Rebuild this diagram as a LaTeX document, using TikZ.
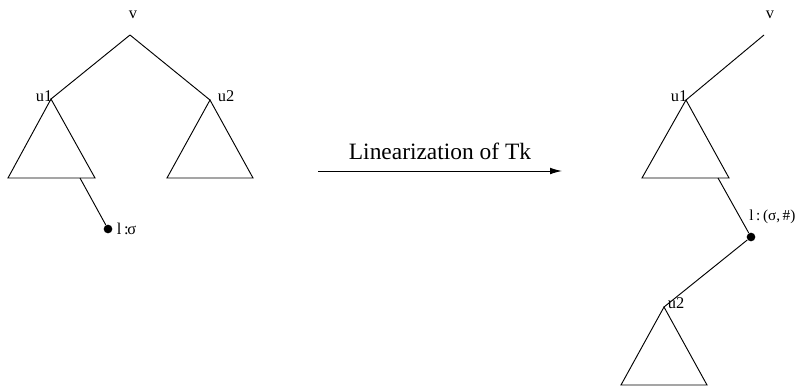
\documentclass[tikz,border=0pt]{standalone}
\usepackage{fontspec}
\setmainfont{Liberation Serif}
\usetikzlibrary{arrows.meta}
\begin{document}
\begin{tikzpicture}[x=0.03cm, y=-0.03cm, line width=0.8pt, >={Latex[length=3.6mm, width=2mm]},
  lbl/.style={font=\fontsize{14}{16}\selectfont, inner sep=0pt},
  leaf/.style={circle, fill, inner sep=0pt, minimum size=0.26cm},
  subtree/.style={draw}]
\useasboundingbox (0,0) rectangle (806,388);

\coordinate (v) at (130,35);
\coordinate (u1) at (51,99);
\coordinate (u2) at (210,100);
\coordinate (b1) at (80,178);
\node[leaf] (l) at (108,229) {};
\node[lbl] (vlbl) at (133,15) {v};
\node[lbl] (u1lbl) at (44,96) {u1};
\node[lbl] (u2lbl) at (226,96) {u2};
\node[lbl, right=3pt] (llbl) at (l.east) {l\,:\kern-1pt σ};

\draw (v) -- (u1);
\draw (v) -- (u2);
\draw[subtree] (u1) -- ++(-43,79) -- ++(87,0) -- cycle;
\draw[subtree] (u2) -- ++(-43,78) -- ++(86,0) -- cycle;
\draw (b1) -- (l);

\coordinate (a) at (318,171);
\coordinate (b) at (562,171);
\draw[->] (a) -- node[above=6pt, font=\fontsize{20}{24}\selectfont] (tlbl) {Linearization of Tk} (b);

\coordinate (rv) at (764,35);
\coordinate (ru1) at (686,100);
\coordinate (rb1) at (718,178);
\coordinate (ru2) at (664,307);
\node[leaf] (rl) at (751,237) {};
\node[lbl] (rvlbl) at (770,15) {v};
\node[lbl] (ru1lbl) at (679,96) {u1};
\node[lbl] (ru2lbl) at (676,303) {u2};
\node[lbl, anchor=south west, font=\fontsize{13}{15}\selectfont] (rllbl) at (749,224) {l\,:\,(σ,\,\#)};

\draw (rv) -- (ru1);
\draw[subtree] (ru1) -- ++(-44,78) -- ++(87,0) -- cycle;
\draw (rb1) -- (rl);
\draw (rl) -- (ru2);
\draw[subtree] (ru2) -- ++(-43,78) -- ++(86,0) -- cycle;
\end{tikzpicture}
\end{document}
